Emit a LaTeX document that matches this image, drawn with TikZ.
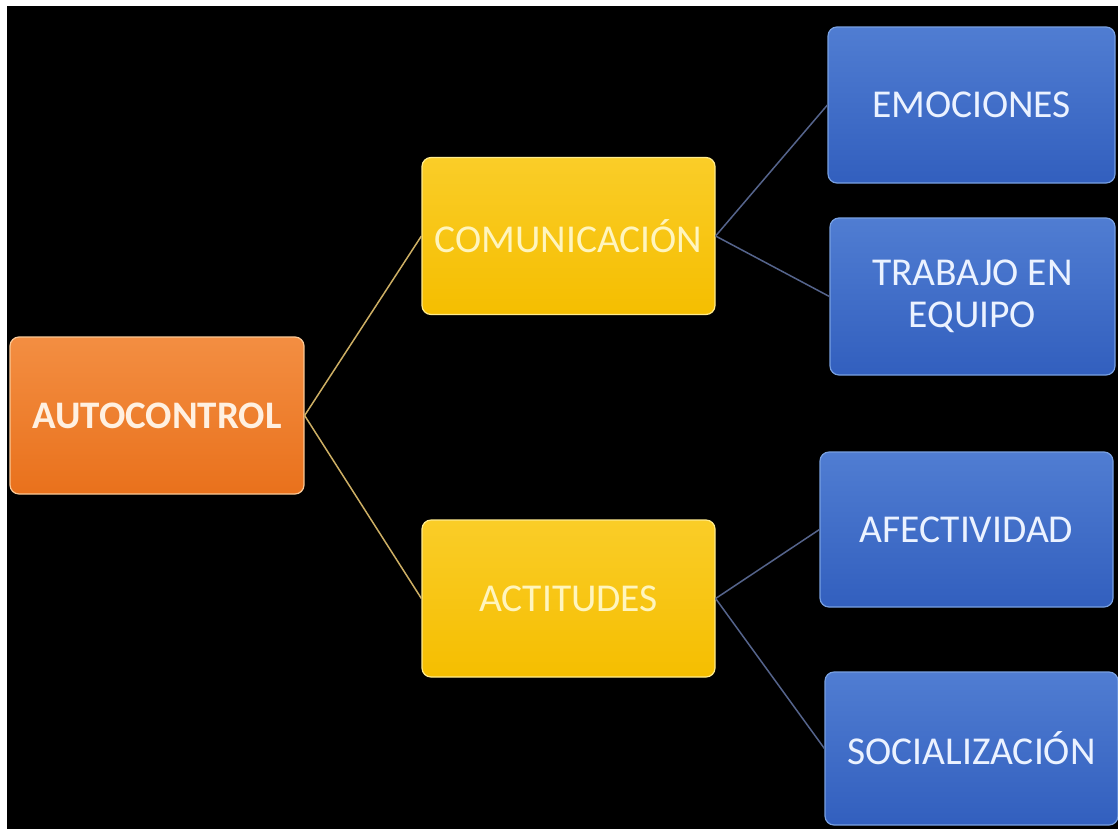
\documentclass[tikz,border=0pt]{standalone}
\usepackage{fontspec}
\setmainfont{Carlito}
\begin{document}
\begin{tikzpicture}[x=1pt,y=-1pt,
  box/.style={rounded corners=9pt, minimum width=293pt, minimum height=157pt,
    inner sep=0pt, align=center, font=\fontsize{39.5}{42}\selectfont, line width=1.2pt},
  orangebox/.style={box, top color={rgb,255:red,243;green,142;blue,66}, bottom color={rgb,255:red,233;green,113;blue,28},
    draw={rgb,255:red,250;green,200;blue,150}, text={rgb,255:red,255;green,240;blue,225}, font=\fontsize{39}{42}\bfseries\selectfont},
  yellowbox/.style={box, top color={rgb,255:red,250;green,205;blue,40}, bottom color={rgb,255:red,245;green,190;blue,0},
    draw={rgb,255:red,255;green,235;blue,140}, text={rgb,255:red,255;green,245;blue,190}},
  bluebox/.style={box, top color={rgb,255:red,80;green,125;blue,210}, bottom color={rgb,255:red,50;green,95;blue,190},
    draw={rgb,255:red,120;green,160;blue,225}, text={rgb,255:red,235;green,242;blue,255}},
  goldline/.style={draw={rgb,255:red,205;green,175;blue,100}, line width=1.5pt},
  blueline/.style={draw={rgb,255:red,85;green,100;blue,140}, line width=1.5pt}
]
\useasboundingbox (0,0) rectangle (1118,828);
\fill[white] (0,0) rectangle (1118,828);
\fill[black] (7,6) rectangle (1122,832);

\node[orangebox, minimum width=294pt] (auto) at (157,415.5) {AUTOCONTROL};
\node[yellowbox] (com) at (568.5,236) {COMUNICACIÓN};
\node[yellowbox] (act) at (568.5,598.5) {ACTITUDES};
\node[bluebox, minimum width=287pt, minimum height=156pt] (emo) at (971.5,105) {EMOCIONES};
\node[bluebox, minimum width=285pt] (tra) at (972.5,296.5) {TRABAJO EN\\EQUIPO};
\node[bluebox, minimum height=155pt] (afe) at (966.5,529.5) {AFECTIVIDAD};
\node[bluebox, minimum height=153pt] (soc) at (971.5,748.5) {SOCIALIZACIÓN};

\draw[goldline] (auto.east) -- (com.west);
\draw[goldline] (auto.east) -- (act.west);
\draw[blueline] (com.east) -- (emo.west);
\draw[blueline] (com.east) -- (tra.west);
\draw[blueline] (act.east) -- (afe.west);
\draw[blueline] (act.east) -- (soc.west);
\end{tikzpicture}
\end{document}
